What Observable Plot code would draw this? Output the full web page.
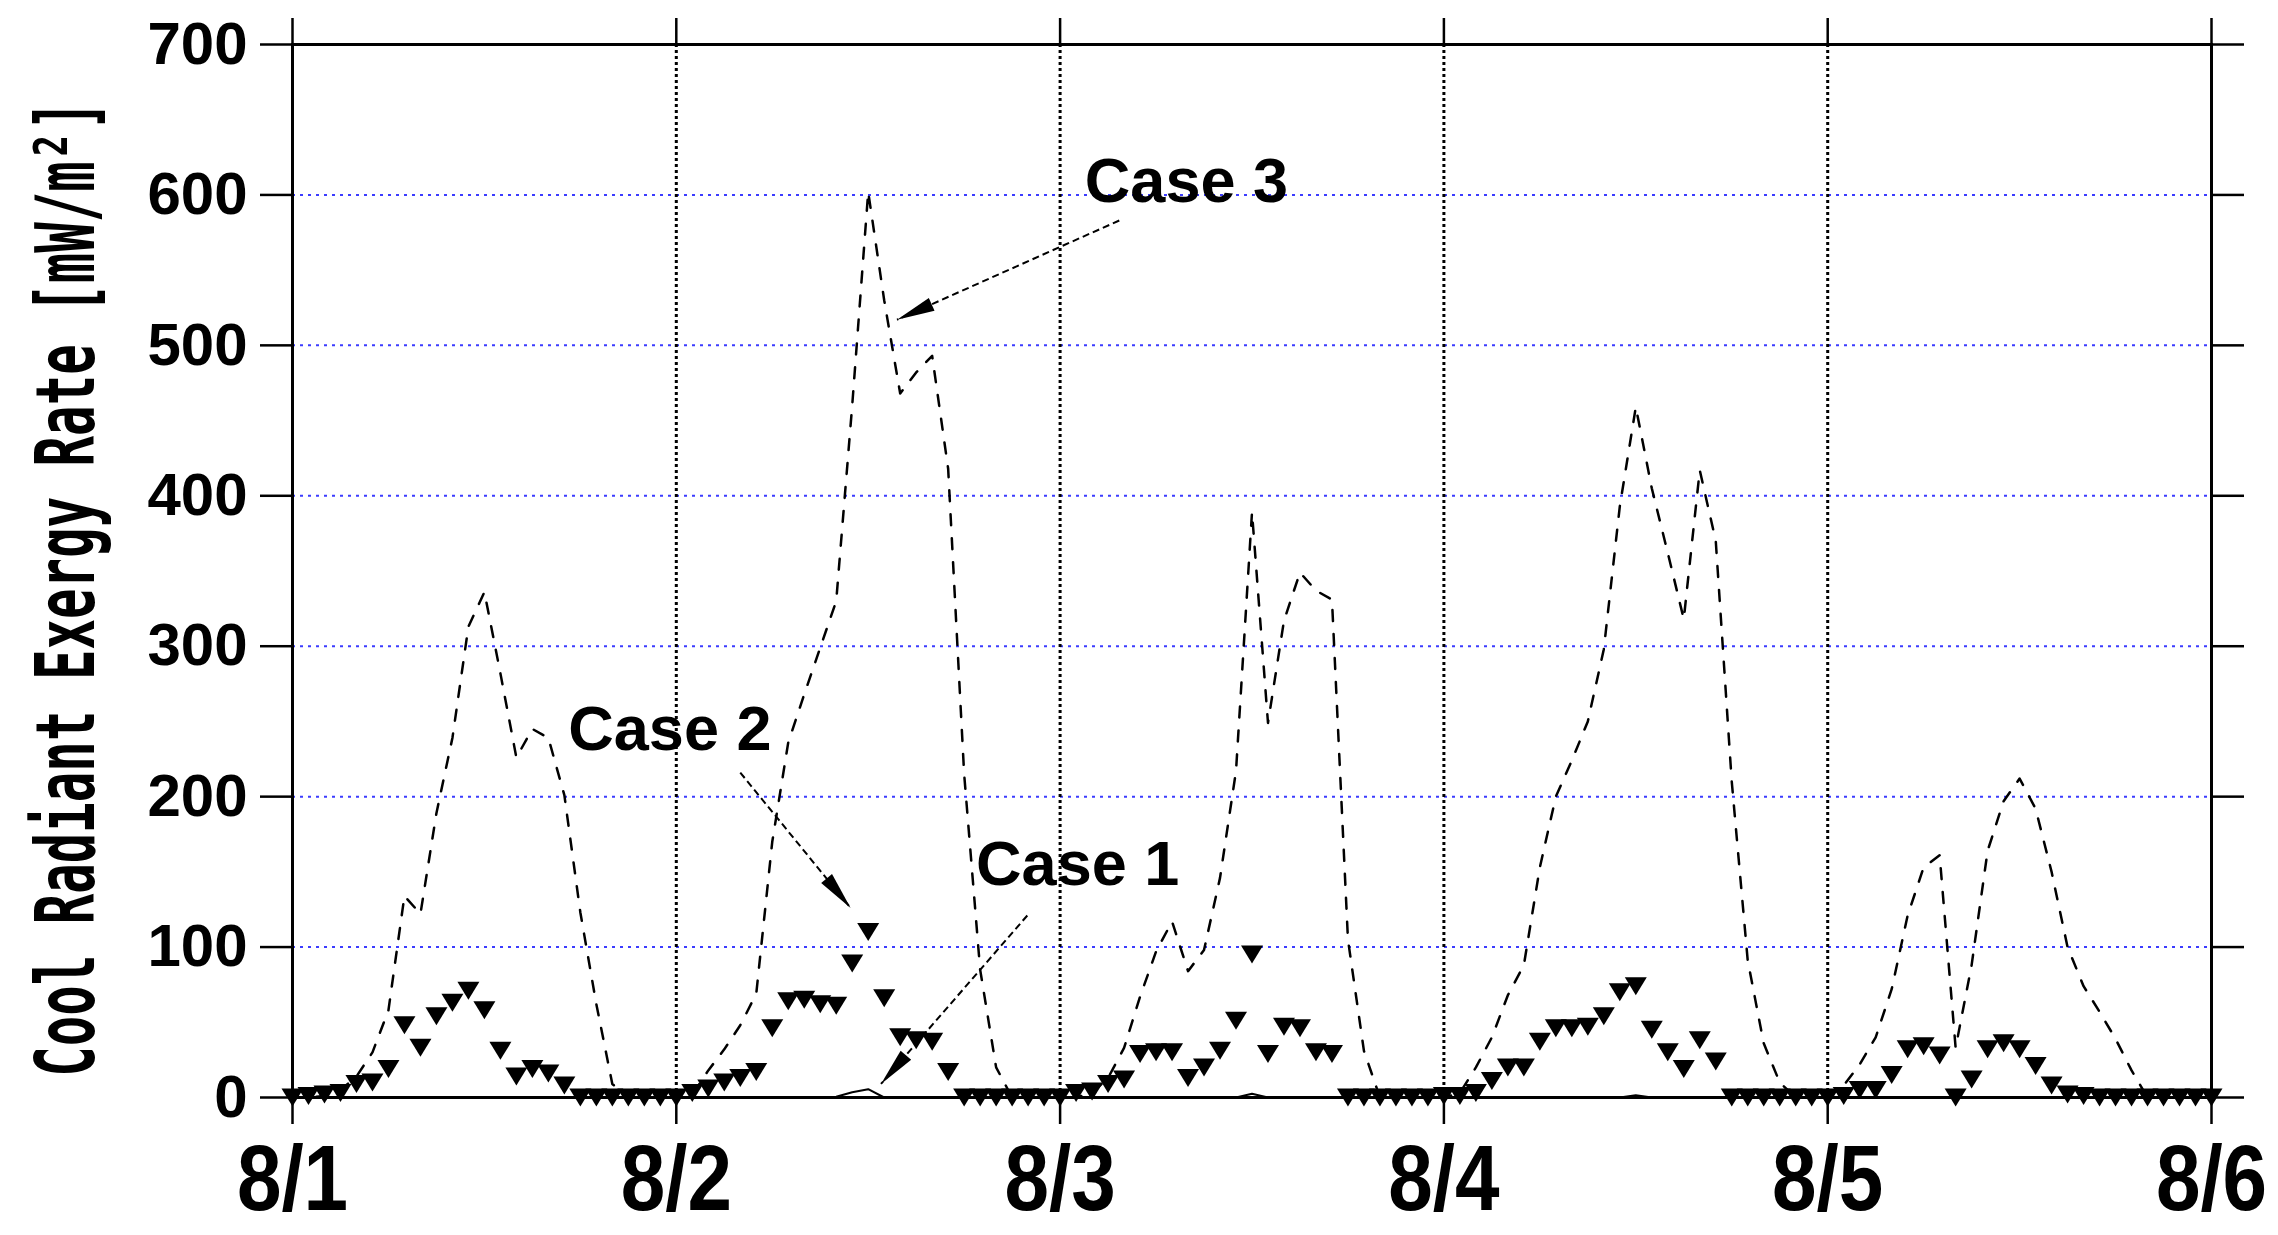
<!DOCTYPE html>
<html><head><meta charset="utf-8">
<script src="https://cdn.jsdelivr.net/npm/d3@7"></script>
<script src="https://cdn.jsdelivr.net/npm/@observablehq/plot@0.6"></script>
<style>html,body{margin:0;padding:0;background:#fff;}</style>
</head><body><div id="chart"></div>
<script>
// ---- data (hourly, 8/1 00:00 .. 8/6 00:00) ----
const dayTicks = [0, 24, 48, 72, 96, 120];
const dayLabels = ["8/1", "8/2", "8/3", "8/4", "8/5", "8/6"];
const yTicks = [0, 100, 200, 300, 400, 500, 600, 700];
const gridY = [100, 200, 300, 400, 500, 600];
const gridX = [24, 48, 72, 96];

const case1 = [
  0,0,0,0,0,0,0,0,0,0,0,0,0,0,0,0,0,0,0,0,0,0,0,0,
  0,0,0,0,0,0,0,0,0,0,0.5,3.5,5.5,0,0,0,0,0,0,0,0,0,0,0,
  0,0,0,0,0,0,0,0,0,0,0,0,2.5,0,0,0,0,0,0,0,0,0,0,0,
  0,0,0,0,0,0,0,0,0,0,0,0,1.5,0,0,0,0,0,0,0,0,0,0,0,
  0,0,0,0,0,0,0,0,0,0,0,0,0,0,0,0,0,0,0,0,0,0,0,0,0
];
const case2 = [
  0,1,2,3,9,10,19,48,33,54,63,71,58,31,14,19,16,8,0,0,0,0,0,0,
  0,3,6,10,13,17,46,64,65,62,61,89,110,66,40,38,37,17,0,0,0,0,0,0,
  0,3,4,9,12,29,30,30,13,20,31,51,95,29,47,46,30,29,0,0,0,0,0,0,
  1,1,3,11,20,20,37,46,46,47,54,70,74,45,30,19,38,24,0,0,0,0,0,0,
  0,1,5,5,15,32,34,28,0,12,32,36,32,21,8,2,1,0,0,0,0,0,0,0,0
];
const case3 = [
  0,0,1,5,14,30,58,134,122,189,239,313,336,282,226,245,239,201,123,62,9,0,0,0,
  0,2,18,32,48,69,170,236,268,299,330,460,602,530,468,482,493,418,215,85,20,0,0,0,
  0,0,3,13,33,67,97,117,84,98,146,217,389,249,317,349,337,331,105,31,0,0,0,0,
  0,3,20,40,68,88,153,200,224,250,298,393,459,405,362,318,417,370,210,91,36,10,0,0,
  0,8,22,40,72,121,153,161,33,88,164,197,212,192,150,100,74,57,39,18,0,0,0,0,0
];

// annotations (hours, value)
const noteText = ["Case 3", "Case 2", "Case 1"];
const noteX = [55.9, 23.6, 49.1];
const noteY = [595, 231, 141.5];
const arrowX1 = [51.7, 28.0, 45.95];
const arrowY1 = [583, 216, 121];
const arrowX2 = [37.8, 34.9, 36.8];
const arrowY2 = [517, 126, 9];

const yTitle = "Cool Radiant Exergy Rate [mW/m\u00B2]";

// ---- tables ----
const rows = case2.map((v, i) => ({h: i, c1: case1[i], c2: v, c3: case3[i]}));
const notes = noteText.map((t, i) => ({t, x: noteX[i], y: noteY[i]}));
const arrows = arrowX1.map((x1, i) => ({x1, y1: arrowY1[i], x2: arrowX2[i], y2: arrowY2[i]}));

const triDown = {draw(ctx) { ctx.moveTo(-11, -9); ctx.lineTo(11, -9); ctx.lineTo(0, 9); ctx.closePath(); }};
const headSym = {draw(ctx) { ctx.moveTo(0, 0); ctx.lineTo(7, 38); ctx.lineTo(-7, 38); ctx.closePath(); }};

const W = 2278, H = 1235;
const sansBold = "'Liberation Sans', Arial, sans-serif";

function build(heads) {
  return Plot.plot({
    width: W, height: H,
    marginTop: 44, marginRight: 67, marginBottom: 138, marginLeft: 292,
    style: {background: "#fff", fontFamily: sansBold},
    x: {domain: [0, 120]},
    y: {domain: [0, 700]},
    marks: [
      Plot.ruleY(gridY, {stroke: "#3c3cff", strokeWidth: 2, strokeDasharray: "3,5"}),
      Plot.ruleX(gridX, {stroke: "#000", strokeWidth: 3, strokeDasharray: "3,3"}),
      Plot.frame({stroke: "#000", strokeWidth: 3}),
      Plot.line(rows, {x: "h", y: "c1", stroke: "#000", strokeWidth: 2}),
      Plot.line(rows, {x: "h", y: "c3", stroke: "#000", strokeWidth: 2.5, strokeDasharray: "11,13"}),
      Plot.dot(rows, {x: "h", y: "c2", symbol: triDown, fill: "#000", stroke: "none"}),
      Plot.link(arrows, {x1: "x1", y1: "y1", x2: "x2", y2: "y2", stroke: "#000", strokeWidth: 2, strokeDasharray: "7,4"}),
      heads ? Plot.dot(heads, {x: "x", y: "y", rotate: "r", symbol: headSym, fill: "#000", stroke: "none"}) : null,
      Plot.text(notes, {x: "x", y: "y", text: "t", lineAnchor: "bottom", textAnchor: "middle",
        fontSize: 63, fontWeight: "bold", fontFamily: sansBold, fill: "#000"}),
      Plot.axisY(yTicks, {anchor: "left", tickSize: 32, tickPadding: 13, strokeWidth: 2.5,
        fontSize: 60, fontWeight: "bold", fontFamily: sansBold, label: null}),
      Plot.axisY(yTicks, {anchor: "right", tickSize: 32, strokeWidth: 2.5, tickFormat: () => "", label: null}),
      Plot.axisX(dayTicks, {anchor: "bottom", tickSize: 27, tickPadding: 20, strokeWidth: 2.5,
        tickFormat: d => dayLabels[dayTicks.indexOf(d)], fontSize: 80, fontWeight: "bold",
        fontFamily: sansBold, label: null}),
      Plot.axisX(dayTicks, {anchor: "top", tickSize: 27, strokeWidth: 2.5, tickFormat: () => "", label: null}),
      Plot.text([yTitle], {frameAnchor: "left", dx: -225, dy: 17.5, rotate: -90, text: d => d,
        fontSize: 50.7, fontWeight: "bold", fontFamily: "'DejaVu Sans Mono', monospace",
        lineAnchor: "middle", textAnchor: "middle", fill: "#000"})
    ]
  });
}

// first pass to read the scales, then compute arrowhead orientation in pixels
const probe = build(null);
const sx = probe.scale("x"), sy = probe.scale("y");
const heads = arrows.map(a => {
  const dx = sx.apply(a.x2) - sx.apply(a.x1);
  const dy = sy.apply(a.y2) - sy.apply(a.y1);
  const r = Math.atan2(dx, -dy) * 180 / Math.PI;
  return {x: a.x2, y: a.y2, r};
});
const svg = build(heads);
document.getElementById("chart").appendChild(svg);

// condensed, tall lettering as in the reference: stretch glyphs perpendicular to the baseline
svg.querySelectorAll("text").forEach(t => {
  const s = t.textContent;
  const tr = t.getAttribute("transform");
  if (s === yTitle) {
    if (tr) t.setAttribute("transform", tr + " scale(1,1.62)");
    else { t.setAttribute("textLength", 977); t.setAttribute("lengthAdjust", "spacingAndGlyphs"); }
  } else if (dayLabels.includes(s)) {
    if (tr) t.setAttribute("transform", tr + " scale(1,1.16)");
  }
});
</script>
</body></html>
